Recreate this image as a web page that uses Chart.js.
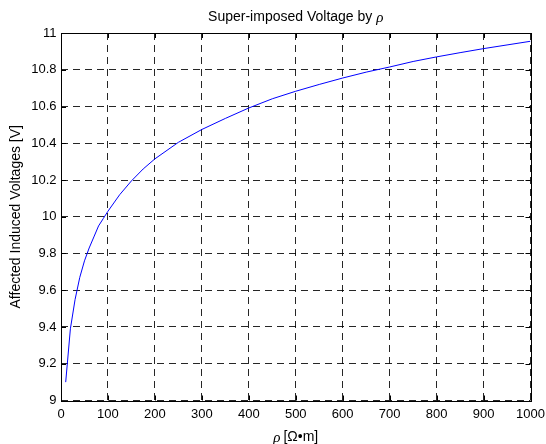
<!DOCTYPE html>
<html>
<head>
<meta charset="utf-8">
<script src="https://cdn.jsdelivr.net/npm/chart.js@4"></script>
<style>
  html, body { margin: 0; padding: 0; background: #fff; }
  #wrap { width: 546px; height: 444px; }
</style>
</head>
<body>
<div id="wrap"><canvas id="chart" width="546" height="444"></canvas></div>
<script>
// values
const rho = [10, 20, 30, 40, 50, 60, 70, 80, 90, 100, 125, 150, 175, 200, 250, 300, 350, 400,
  450, 500, 550, 600, 650, 700, 750, 800, 850, 900, 950, 1000];
const voltage = [9.10, 9.39, 9.55, 9.67, 9.76, 9.83, 9.89, 9.95, 9.99, 10.03, 10.12, 10.195, 10.26,
  10.315, 10.405, 10.475, 10.535, 10.592, 10.642, 10.683, 10.72, 10.755, 10.787, 10.815, 10.845,
  10.87, 10.893, 10.915, 10.935, 10.955];
const xTickLabels = ['0', '100', '200', '300', '400', '500', '600', '700', '800', '900', '1000'];
const yTickLabels = ['9', '9.2', '9.4', '9.6', '9.8', '10', '10.2', '10.4', '10.6', '10.8', '11'];
const titleText = 'Super-imposed Voltage by ';
const xLabelText = '[Ω•m]';
const yLabelText = 'Affected Induced Voltages [V]';

const sans = '"Liberation Sans", Arial, Helvetica, sans-serif';
const serif = '"Liberation Serif", "DejaVu Serif", serif';

function tickLabel(list, value) {
  const hit = list.find(l => Math.abs(Number(l) - value) < 1e-6);
  return hit === undefined ? '' : hit;
}

// box round the axes plus MATLAB-style inward ticks
const framePlugin = {
  id: 'frame',
  afterDraw(chart) {
    const { ctx, chartArea: a, scales } = chart;
    ctx.save();
    ctx.strokeStyle = '#000';
    ctx.lineWidth = 1;
    ctx.beginPath();
    xTickLabels.forEach(l => {
      const px = Math.round(scales.x.getPixelForValue(Number(l))) + 0.5;
      ctx.moveTo(px, a.bottom); ctx.lineTo(px, a.bottom - 5);
      ctx.moveTo(px, a.top); ctx.lineTo(px, a.top + 5);
    });
    yTickLabels.forEach(l => {
      const py = Math.round(scales.y.getPixelForValue(Number(l))) + 0.5;
      ctx.moveTo(a.left, py); ctx.lineTo(a.left + 5, py);
      ctx.moveTo(a.right, py); ctx.lineTo(a.right - 5, py);
    });
    ctx.stroke();
    ctx.strokeRect(Math.round(a.left) + 0.5, Math.round(a.top) + 0.5,
      Math.round(a.right - a.left), Math.round(a.bottom - a.top));

    // title and x label with an italic rho
    const cx = (a.left + a.right) / 2;
    ctx.fillStyle = '#000';
    ctx.textBaseline = 'middle';
    ctx.textAlign = 'left';

    ctx.font = '14px ' + sans;
    const tw = ctx.measureText(titleText).width;
    ctx.font = 'italic 15px ' + serif;
    const rw = ctx.measureText('ρ').width;
    let x0 = cx - (tw + rw) / 2;
    ctx.font = '14px ' + sans;
    ctx.fillText(titleText, x0, 17);
    ctx.font = 'italic 15px ' + serif;
    ctx.fillText('ρ', x0 + tw, 18);

    ctx.font = '14px ' + sans;
    const lw = ctx.measureText(xLabelText).width;
    x0 = cx - (rw + 3 + lw) / 2;
    ctx.font = 'italic 15px ' + serif;
    ctx.fillText('ρ', x0, 438);
    ctx.font = '14px ' + sans;
    ctx.fillText(xLabelText, x0 + rw + 3, 437);
    ctx.restore();
  }
};

new Chart(document.getElementById('chart'), {
  type: 'line',
  data: {
    datasets: [{
      data: rho.map((r, i) => ({ x: r, y: voltage[i] })),
      borderColor: '#0000ff',
      borderWidth: 1,
      pointRadius: 0,
      tension: 0,
      fill: false
    }]
  },
  options: {
    responsive: false,
    animation: false,
    devicePixelRatio: 1,
    layout: { autoPadding: false, padding: { left: 0, right: 15.5, top: 33, bottom: 0 } },
    plugins: {
      legend: { display: false },
      title: { display: false },
      tooltip: { enabled: false }
    },
    scales: {
      x: {
        type: 'linear',
        min: 0,
        max: 1000,
        afterFit: s => { s.height = 43.5; },
        grid: { color: 'rgba(0,0,0,0.85)', drawTicks: true, tickLength: 6, tickColor: 'rgba(0,0,0,0)' },
        border: { display: false, dash: [7, 5] },
        ticks: {
          stepSize: 100,
          padding: 0,
          color: '#000',
          font: { family: sans, size: 13 },
          maxRotation: 0,
          callback: v => tickLabel(xTickLabels, v)
        }
      },
      y: {
        min: 9,
        max: 11,
        afterFit: s => { s.width = 61; },
        grid: { color: 'rgba(0,0,0,0.85)', drawTicks: false, tickLength: 0 },
        border: { display: false, dash: [7, 5] },
        ticks: {
          stepSize: 0.2,
          padding: 4.5,
          color: '#000',
          font: { family: sans, size: 13 },
          callback: v => tickLabel(yTickLabels, v)
        },
        title: {
          display: true,
          text: yLabelText,
          color: '#000',
          font: { family: sans, size: 14 },
          padding: { top: 7.6, bottom: 0 }
        }
      }
    }
  },
  plugins: [framePlugin]
});
</script>
</body>
</html>
